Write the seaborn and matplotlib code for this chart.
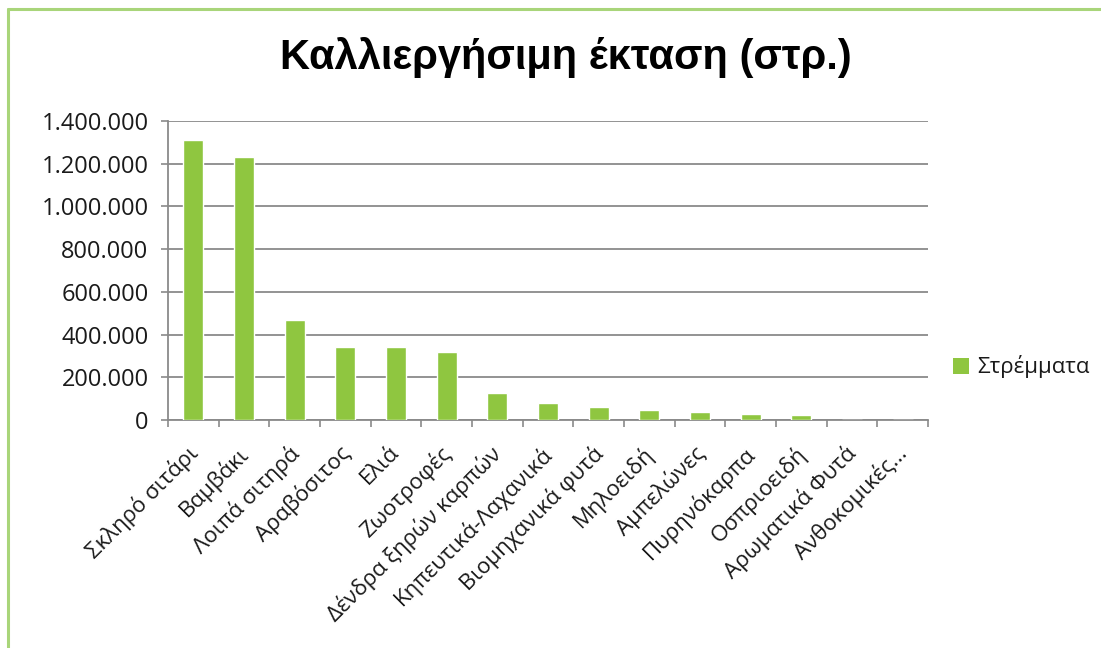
import matplotlib
matplotlib.use("Agg")
import matplotlib.pyplot as plt
import matplotlib.ticker as mticker
import matplotlib.transforms as mtransforms
from matplotlib.lines import Line2D
from matplotlib.patches import Patch
import seaborn as sns
import pandas as pd

# Cultivated area per crop type (stremmata)
crops = [
    "Σκληρό σιτάρι", "Βαμβάκι", "Λοιπά σιτηρά", "Αραβόσιτος", "Ελιά",
    "Ζωοτροφές", "Δένδρα ξηρών καρπών", "Κηπευτικά-Λαχανικά",
    "Βιομηχανικά φυτά", "Μηλοειδή", "Αμπελώνες", "Πυρηνόκαρπα",
    "Οσπριοειδή", "Αρωματικά Φυτά", "Ανθοκομικές...",
]
stremmata = [
    1310000, 1230000, 470000, 340000, 340000,
    318000, 128000, 78000,
    61000, 49000, 39000, 27000,
    23000, 2000, 1000,
]
y_ticks = [0, 200000, 400000, 600000, 800000, 1000000, 1200000, 1400000]
title = "Καλλιεργήσιμη έκταση (στρ.)"
series_name = "Στρέμματα"

df = pd.DataFrame({"crop": crops, "value": stremmata})

sns.set_theme(style="white")
plt.rcParams["font.family"] = ["Open Sans", "DejaVu Sans"]

BAR = "#8fc640"
GRID = "#8a8a8a"
TEXT = "#1a1a1a"

fig = plt.figure(figsize=(11.01, 6.48), dpi=100)
fig.patch.set_facecolor("white")
ax = fig.add_axes([168 / 1101, 1 - 420 / 648, (928 - 168) / 1101, (420 - 121) / 648])

sns.barplot(data=df, x="crop", y="value", color=BAR, saturation=1,
            width=0.4, ax=ax, zorder=3)

ax.set_xlim(-0.5, len(crops) - 0.5)
ax.set_ylim(0, 1400000)
ax.set_yticks(y_ticks)
ax.yaxis.set_major_formatter(
    mticker.FuncFormatter(lambda v, _: f"{int(v):,}".replace(",", "."))
)
ax.grid(axis="y", color=GRID, linewidth=1.3, zorder=0)
ax.set_axisbelow(True)
ax.set_xlabel("")
ax.set_ylabel("")

for side in ("top", "right"):
    ax.spines[side].set_visible(False)
for side in ("left", "bottom"):
    ax.spines[side].set_color(GRID)
    ax.spines[side].set_linewidth(1.3)

# Category labels centred under the bars, tick marks between categories
ax.set_xticks(range(len(crops)))
ax.set_xticklabels(crops, rotation=45, ha="right", va="top",
                   rotation_mode="anchor", fontsize=16, color=TEXT)
ax.tick_params(axis="x", which="major", length=0, pad=8)
shift = mtransforms.ScaledTranslation(-7 / 100, -11 / 100, fig.dpi_scale_trans)
for lab in ax.get_xticklabels():
    lab.set_transform(lab.get_transform() + shift)
ax.set_xticks([i - 0.5 for i in range(len(crops) + 1)], minor=True)
ax.tick_params(axis="x", which="minor", length=5, width=1.2, color=GRID,
               direction="out", bottom=True)
ax.tick_params(axis="y", length=5, width=1.2, color=GRID, direction="out",
               left=True, labelsize=17, labelcolor=TEXT, pad=9)

fig.text(566 / 1101, 1 - 57 / 648, title, ha="center", va="center",
         fontsize=30, fontweight="bold", color="black",
         family=["Liberation Sans", "DejaVu Sans"])

handle = Patch(facecolor=BAR, edgecolor="none")
fig.legend([handle], [series_name], loc="center left",
           bbox_to_anchor=(933 / 1101, 1 - 367 / 648), frameon=False,
           fontsize=16, handlelength=0.7, handleheight=0.7,
           handletextpad=0.4, labelcolor=TEXT)

# Green frame along the left and top edges
fig.add_artist(Line2D([8 / 1101, 8 / 1101], [0, 1 - 9 / 648],
                      transform=fig.transFigure, color="#a9d57a", linewidth=2.2))
fig.add_artist(Line2D([8 / 1101, 1], [1 - 9 / 648, 1 - 9 / 648],
                      transform=fig.transFigure, color="#a9d57a", linewidth=2.2))

fig.savefig("out.png", dpi=100, facecolor="white")
